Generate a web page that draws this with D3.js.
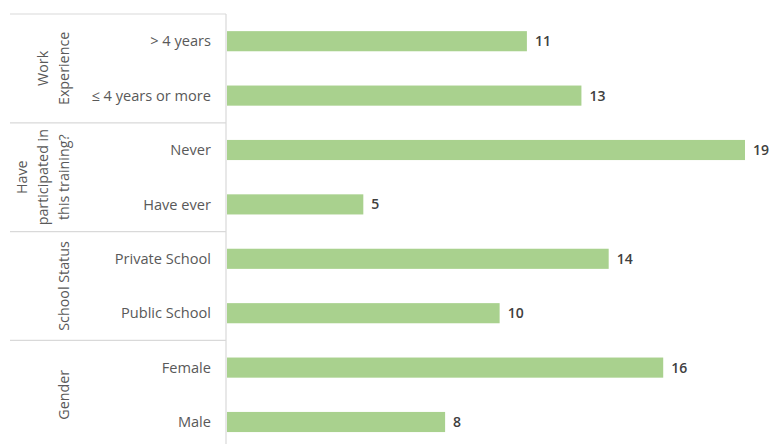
<!DOCTYPE html>
<html><head><meta charset="utf-8">
<script src="https://cdn.jsdelivr.net/npm/d3@7"></script>
<style>body{margin:0;background:#fff}svg{display:block}</style>
</head><body>
<script>
const categories = ["> 4 years","≤ 4 years or more","Never","Have ever","Private School","Public School","Female","Male"];
const values = [11,13,19,5,14,10,16,8];
const groups = [
  {lines:["Work","Experience"], start:0, end:2},
  {lines:["Have","participated in","this training?"], start:2, end:4},
  {lines:["School Status"], start:4, end:6},
  {lines:["Gender"], start:6, end:8}
];

const W=772,H=444;
const axisX=226, topY=14, slot=54.4;
const svg=d3.select("body").append("svg").attr("width",W).attr("height",H);
const font="'Open Sans', sans-serif";

const x=d3.scaleLinear().domain([0,19]).range([axisX+1,745]);
const y=d3.scaleBand().domain(categories).range([topY, topY+slot*categories.length]).paddingInner(0.63).paddingOuter(0.315);

// separators
const sepY=[topY].concat(groups.map(g=>topY+slot*g.end).slice(0,-1));
svg.selectAll("line.sep").data(sepY).join("line")
  .attr("x1",10).attr("x2",axisX).attr("y1",d=>d).attr("y2",d=>d)
  .attr("stroke","#d9d9d9").attr("stroke-width",1.2);
svg.append("line").attr("x1",axisX).attr("x2",axisX).attr("y1",topY).attr("y2",H)
  .attr("stroke","#d9d9d9").attr("stroke-width",1.2);

// bars
svg.selectAll("rect.bar").data(categories).join("rect")
  .attr("x",x(0)).attr("y",d=>y(d)).attr("height",y.bandwidth())
  .attr("width",(d,i)=>x(values[i])-x(0)).attr("fill","#a9d18e");

// value labels
svg.selectAll("text.val").data(categories).join("text")
  .attr("x",(d,i)=>x(values[i])+8).attr("y",d=>y(d)+y.bandwidth()/2)
  .attr("dy","0.35em").attr("font-family",font).attr("font-size",14)
  .attr("font-weight",600).attr("fill","#404040").text((d,i)=>values[i]);

// category labels
svg.selectAll("text.cat").data(categories).join("text")
  .attr("x",211).attr("y",d=>y(d)+y.bandwidth()/2).attr("dy","0.35em")
  .attr("text-anchor","end").attr("font-family",font).attr("font-size",14.6)
  .attr("fill","#595959").text(d=>d);

// group labels (rotated)
groups.forEach(g=>{
  const cy=topY+slot*(g.start+g.end)/2;
  const n=g.lines.length;
  g.lines.forEach((l,i)=>{
    const lx=64-(n-1-i)*21;
    svg.append("text").attr("transform",`translate(${lx},${cy}) rotate(-90)`)
      .attr("text-anchor","middle").attr("dy","0.35em")
      .attr("font-family",font).attr("font-size",14.3).attr("fill","#595959").text(l);
  });
});
</script>
</body></html>
